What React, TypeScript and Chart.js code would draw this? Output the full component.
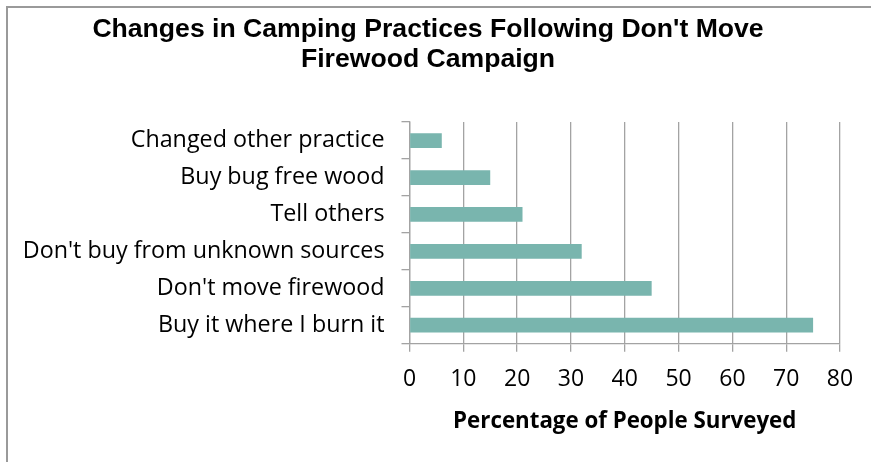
import React, { useEffect, useRef } from "react";
import { Chart, registerables } from "chart.js";

Chart.register(...registerables);

const categories = [
  "Changed other practice",
  "Buy bug free wood",
  "Tell others",
  "Don't buy from unknown sources",
  "Don't move firewood",
  "Buy it where I burn it",
];
const values = [6, 15, 21, 32, 45, 75];
const titleLines = ["Changes in Camping Practices Following Don't Move", "Firewood Campaign"];
const xAxisTitle = "Percentage of People Surveyed";
const xMin = 0;
const xMax = 80;
const xStep = 10;

const W = 871;
const H = 462;

export default function App() {
  const ref = useRef<HTMLCanvasElement | null>(null);
  useEffect(() => {
    if (!ref.current) return;
    const chart = new Chart(ref.current, {
      type: "bar",
      data: {
        labels: categories,
        datasets: [
          {
            data: values,
            backgroundColor: "#79b5ae",
            borderWidth: 0,
            categoryPercentage: 1,
            barPercentage: 0.4,
          },
        ],
      },
      options: {
        indexAxis: "y",
        animation: false,
        responsive: false,
        devicePixelRatio: 1,
        layout: { padding: { left: 16, right: 31, top: 0, bottom: 0 } },
        plugins: {
          legend: { display: false },
          tooltip: { enabled: false },
          title: {
            display: true,
            text: titleLines,
            color: "#000",
            font: { family: "'Liberation Sans', Arial, sans-serif", size: 26.6, weight: "bold", lineHeight: 1.13 },
            padding: { top: 15, bottom: 47 },
          },
        },
        scales: {
          x: {
            min: xMin,
            max: xMax,
            ticks: {
              stepSize: xStep,
              color: "#000",
              font: { family: "'Open Sans', sans-serif", size: 23 },
              padding: 14,
            },
            grid: { color: "#a3a3a3", lineWidth: 1.3, tickLength: 8, drawTicks: true },
            border: { display: true, color: "#a3a3a3", width: 1.3 },
            title: {
              display: true,
              text: xAxisTitle,
              color: "#000",
              font: { family: "'Open Sans', sans-serif", size: 22.3, weight: "bold", lineHeight: 1.2 },
              padding: { top: 0, bottom: 27 },
            },
            afterFit: (scale: any) => {
              scale.height = 118.3;
            },
          },
          y: {
            ticks: {
              color: "#000",
              font: { family: "'Open Sans', sans-serif", size: 23.3 },
              padding: 17,
            },
            grid: { drawOnChartArea: false, drawTicks: true, tickLength: 8, color: "#a3a3a3", lineWidth: 1.3, offset: true },
            border: { display: true, color: "#a3a3a3", width: 1.3 },
            afterFit: (scale: any) => {
              scale.width = 393.5;
            },
          },
        },
      },
    });
    return () => chart.destroy();
  }, []);

  return (
    <div style={{ position: "fixed", left: 0, top: 0, width: W, height: H, background: "#fff", overflow: "hidden" }}>
      <div
        style={{
          position: "absolute",
          left: 6,
          top: 6,
          width: W + 50,
          height: H + 50,
          borderTop: "2px solid #9a9a9a",
          borderLeft: "2px solid #9a9a9a",
        }}
      />
      <canvas ref={ref} width={W} height={H} style={{ position: "absolute", left: 0, top: 0, width: W, height: H }} />
    </div>
  );
}
